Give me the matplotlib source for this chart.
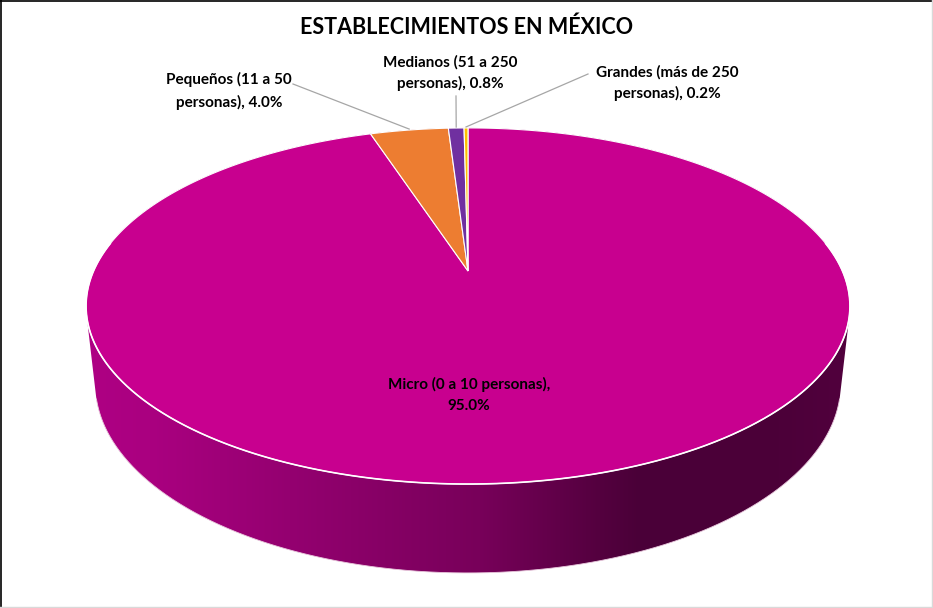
import numpy as np
import matplotlib.pyplot as plt
from matplotlib.patches import Polygon

# data
categories = ["Micro (0 a 10 personas)", "Pequeños (11 a 50 personas)",
              "Medianos (51 a 250 personas)", "Grandes (más de 250 personas)"]
shares = [95.0, 4.0, 0.8, 0.2]
colors = ["#C8008F", "#ED7D31", "#7030A0", "#FFC000"]
title = "ESTABLECIMIENTOS EN MÉXICO"

FONT = ["Lato", "DejaVu Sans"]

# 3d view (Excel-like perspective pie), pixel space
ELEV = np.radians(27.2)
DIST = 4.525
FOC = 1694.6
CX, CY = 468, 271
THICK = 0.236


def project(x, y, z):
    d = DIST + y * np.cos(ELEV) - z * np.sin(ELEV)
    v = y * np.sin(ELEV) + z * np.cos(ELEV)
    return CX + FOC * x / d, CY - FOC * v / d


def convex_hull(points):
    pts = sorted(set(map(tuple, np.round(points, 3))))

    def cross(o, a, b):
        return (a[0] - o[0]) * (b[1] - o[1]) - (a[1] - o[1]) * (b[0] - o[0])
    lower, upper = [], []
    for p in pts:
        while len(lower) >= 2 and cross(lower[-2], lower[-1], p) <= 0:
            lower.pop()
        lower.append(p)
    for p in reversed(pts):
        while len(upper) >= 2 and cross(upper[-2], upper[-1], p) <= 0:
            upper.pop()
        upper.append(p)
    return np.array(lower[:-1] + upper[:-1])


def label_for(i):
    if i == 0:
        return f"{categories[i]},\n{shares[i]:.1f}%"
    return categories[i].replace(" personas)", "\npersonas)") + f", {shares[i]:.1f}%"


fig = plt.figure(figsize=(9.33, 6.08), dpi=100)
ax = fig.add_axes([0, 0, 1, 1])

# side of the cylinder, shaded left to right
phi = np.linspace(0, 2 * np.pi, 721)
tx, ty = project(np.sin(phi), np.cos(phi), 0)
bx, by = project(np.sin(phi), np.cos(phi), -THICK)
hull = convex_hull(np.column_stack([np.r_[tx, bx], np.r_[ty, by]]))
side = Polygon(hull, closed=True, fc="none", ec="none")
ax.add_patch(side)
gx = np.linspace(60, 880, 500)
stop_x = [60, 150, 290, 480, 600, 640, 780, 880]
stop_c = np.array([[176, 0, 133], [170, 0, 128], [148, 0, 112], [120, 0, 90],
                   [84, 0, 63], [74, 0, 56], [76, 0, 57], [84, 0, 63]]) / 255
grad = np.column_stack([np.interp(gx, stop_x, stop_c[:, k]) for k in range(3)])
img = ax.imshow(grad[None, :, :], extent=(60, 880, 600, 100), aspect="auto",
                interpolation="bilinear", zorder=1)
img.set_clip_path(side)

# faint light edge at the bottom of the side
front = (phi > np.radians(105)) & (phi < np.radians(255))
ax.plot(bx[front], by[front], color="#E8C8DC", lw=0.6, zorder=1.5)

# top face wedges, clockwise from 12 o'clock
cum = np.r_[0, np.cumsum(shares)] / 100 * 2 * np.pi
for i in range(len(shares)):
    a = np.linspace(cum[i], cum[i + 1], max(3, int(shares[i] * 8)))
    px, py = project(np.sin(a), np.cos(a), 0)
    verts = np.column_stack([np.r_[CX, px], np.r_[CY, py]])
    ax.add_patch(Polygon(verts, closed=True, fc=colors[i], ec="white",
                         lw=0.8, zorder=2))

# white rim between top face and side
rim = (phi > np.radians(80)) & (phi < np.radians(280))
ax.plot(tx[rim], ty[rim], color="white", lw=1.2, zorder=3)

# labels
label_pos = [(469, 395), (229, 91), (450, 73), (667, 83)]
leader_end = [None, (293, 84), (456, 96), (588, 74)]
for i in range(len(shares)):
    ax.text(label_pos[i][0], label_pos[i][1], label_for(i), ha="center",
            va="center", fontsize=11, fontweight="bold", family=FONT,
            linespacing=1.6, zorder=5)
    if leader_end[i] is not None:
        mid = (cum[i] + cum[i + 1]) / 2
        ax_, ay_ = project(np.sin(mid), np.cos(mid), 0)
        ax.plot([leader_end[i][0], ax_], [leader_end[i][1], ay_ - 1],
                color="#A6A6A6", lw=0.9, zorder=4)

ax.text(467, 27, title, ha="center", va="center", fontsize=15.5,
        fontweight="bold", family=FONT)

# chart frame
ax.plot([1, 1], [0, 607], color="black", lw=1.2)
ax.plot([0, 933], [1, 1], color="black", lw=1.2)
ax.plot([931.5, 931.5], [0, 608], color="#D9D9D9", lw=1)
ax.plot([0, 933], [606.5, 606.5], color="#D9D9D9", lw=1)

ax.set_xlim(0, 933)
ax.set_ylim(608, 0)
ax.axis("off")
fig.savefig("out.png", dpi=100, facecolor="white")
